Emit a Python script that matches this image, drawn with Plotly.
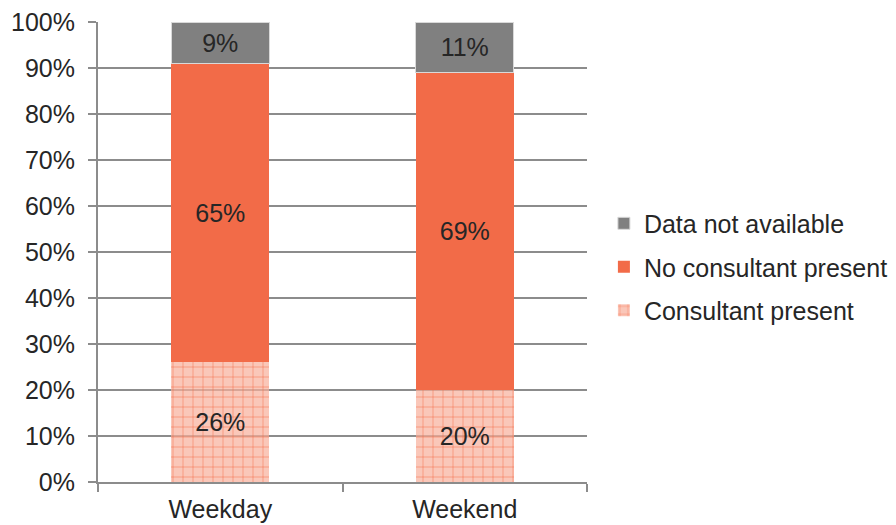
import plotly.graph_objects as go

categories = ["Weekday", "Weekend"]
consultant_present = [26, 20]
no_consultant = [65, 69]
data_not_available = [9, 11]
series_names = ["Consultant present", "No consultant present", "Data not available"]
tick_vals = [0, 10, 20, 30, 40, 50, 60, 70, 80, 90, 100]
tick_text = [f"{v}%" for v in tick_vals]

FONT = "Liberation Sans, Arial, sans-serif"
TXT = "#262626"
AX = "#8c8c8c"
FS = 25

fig = go.Figure()
fig.add_trace(go.Bar(
    x=categories, y=consultant_present, name=series_names[0], legendgroup="a", legendrank=3,
    text=[f"{v}%" for v in consultant_present], textposition="inside",
    insidetextanchor="middle", textangle=0,
    textfont=dict(size=FS, color=TXT, family=FONT),
    marker=dict(color="rgba(249,150,125,0.6)",
                pattern=dict(shape="+", fgcolor="#f26b48", bgcolor="rgba(249,175,155,0.7)",
                             size=10, solidity=0.1, fillmode="replace"),
                line=dict(width=0)),
    width=0.4,
))
fig.add_trace(go.Bar(
    x=categories, y=no_consultant, name=series_names[1], legendgroup="b", legendrank=2,
    text=[f"{v}%" for v in no_consultant], textposition="inside",
    insidetextanchor="middle", textangle=0,
    textfont=dict(size=FS, color=TXT, family=FONT),
    marker=dict(color="#f26b48", line=dict(width=0)),
    width=0.4,
))
fig.add_trace(go.Bar(
    x=categories, y=data_not_available, name=series_names[2], legendgroup="c", legendrank=1,
    text=[f"{v}%" for v in data_not_available], textposition="inside",
    insidetextanchor="middle", textangle=0,
    textfont=dict(size=FS, color=TXT, family=FONT),
    marker=dict(color="#808080", line=dict(width=1, color="#d9d9d9")),
    width=0.4,
))

fig.update_layout(
    width=896, height=525,
    barmode="stack",
    paper_bgcolor="white", plot_bgcolor="white",
    margin=dict(l=98, r=309, t=22, b=43),
    font=dict(family=FONT, size=FS, color=TXT),
    showlegend=True,
    legend=dict(
        traceorder="grouped", tracegroupgap=8,
        xref="container", yref="container",
        x=0.674, y=0.618, xanchor="left", yanchor="top",
        font=dict(size=FS, color=TXT, family=FONT),
        itemwidth=30, bgcolor="rgba(0,0,0,0)",
    ),
    xaxis=dict(
        showline=True, linecolor=AX, linewidth=2, automargin=False,
        ticks="outside", tickson="boundaries", ticklen=8, tickcolor=AX, tickwidth=2,
        tickfont=dict(size=FS, color=TXT), showgrid=False, ticklabelstandoff=4,
    ),
    yaxis=dict(
        range=[0, 100], tickmode="array", tickvals=tick_vals, ticktext=tick_text,
        showline=True, linecolor=AX, linewidth=2, automargin=False,
        ticks="outside", ticklen=8, tickcolor=AX, tickwidth=2,
        showgrid=True, gridcolor=AX, gridwidth=1.5,
        tickfont=dict(size=FS, color=TXT), zeroline=False, ticklabelstandoff=8,
    ),
)

fig.write_html("out.html")
